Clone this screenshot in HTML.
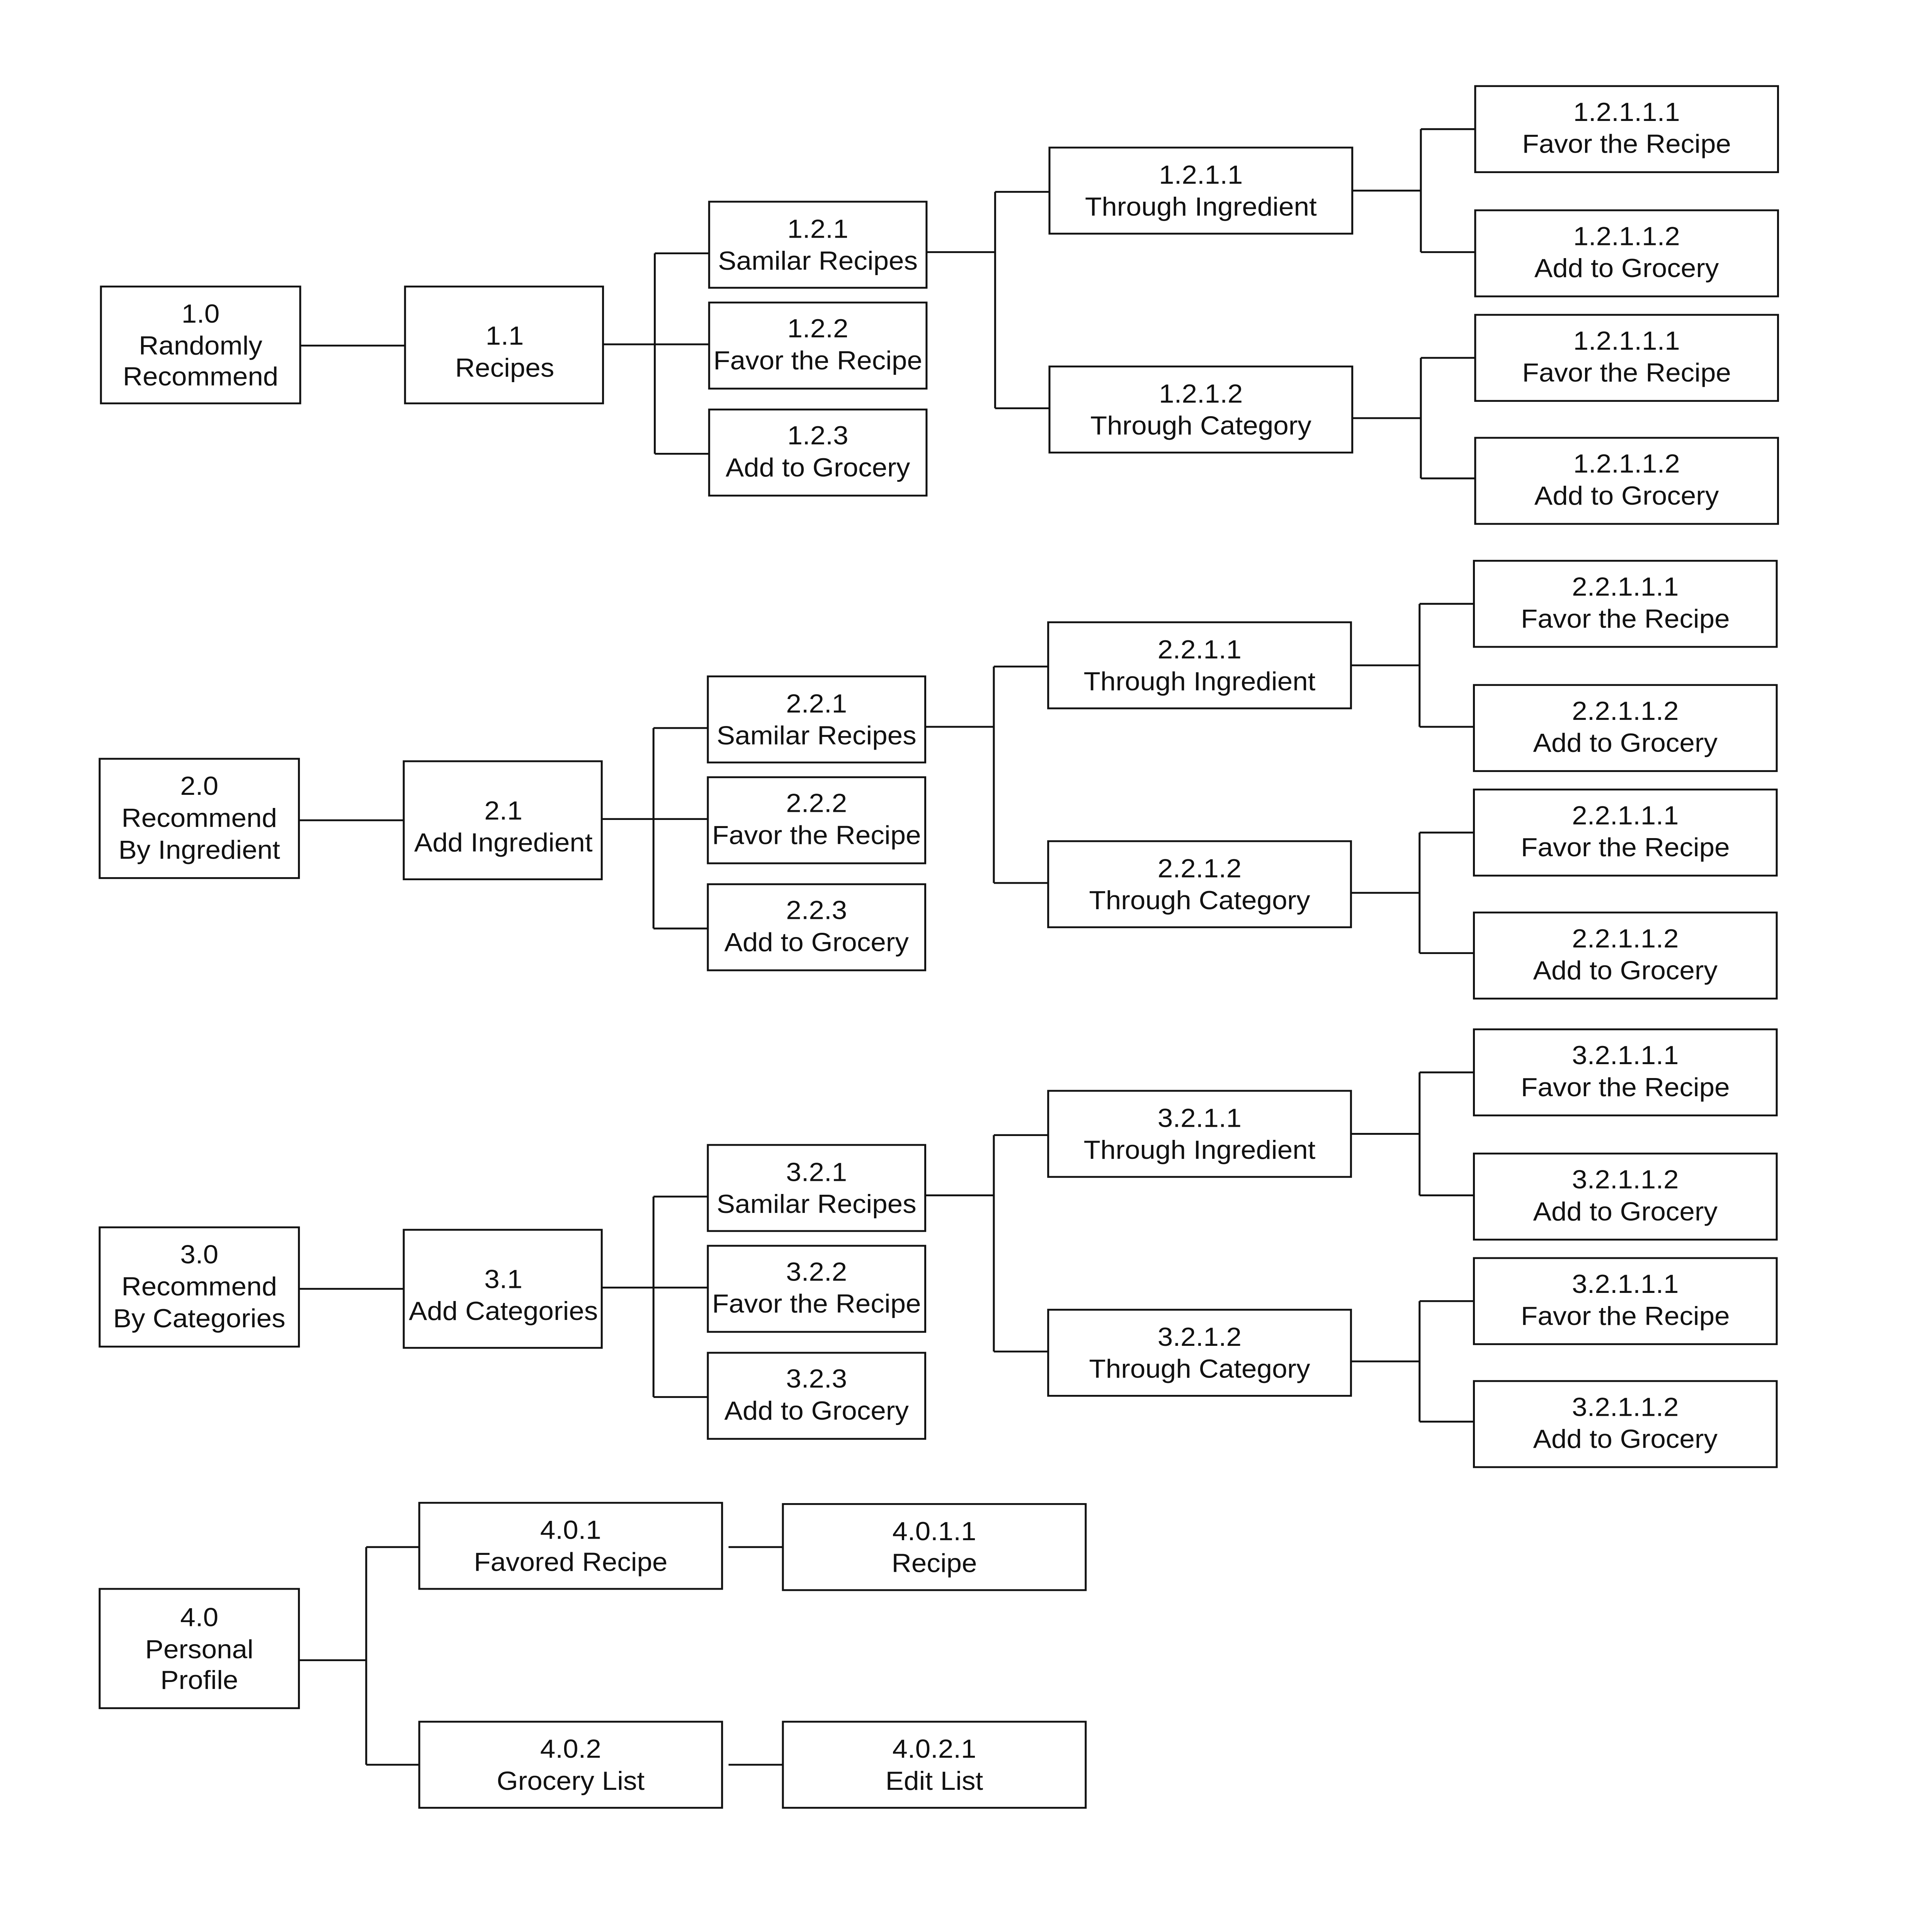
<!DOCTYPE html>
<html><head><meta charset="utf-8">
<style>
html,body{margin:0;padding:0;background:#fff;width:100%;height:100%;overflow:hidden;}
svg{display:block;width:100vw;height:100vh;}
text{font-family:"Liberation Sans",sans-serif;font-size:21.2px;fill:#111;text-anchor:middle;dominant-baseline:central;}
rect{fill:#fff;stroke:#111;stroke-width:1.5;}
path{fill:none;stroke:#111;stroke-width:1.5;}
</style></head>
<body>
<svg viewBox="0 0 1493 1571" preserveAspectRatio="none" xmlns="http://www.w3.org/2000/svg">
<!-- Row 1 -->
<g>
<path d="M232 281H313 M466 280H548 M506 206V369 M506 206H548 M506 369H548 M716 205H769 M769 156V332 M769 156H811 M769 332H811 M1045 155H1098 M1098 105V205 M1098 105H1140 M1098 205H1140 M1045 340H1098 M1098 291V389 M1098 291H1140 M1098 389H1140"/>
<rect x="78" y="233" width="154" height="95"/><text x="155" y="255">1.0</text><text x="155" y="281">Randomly</text><text x="155" y="306">Recommend</text>
<rect x="313" y="233" width="153" height="95"/><text x="390" y="273">1.1</text><text x="390" y="299">Recipes</text>
<rect x="548" y="164" width="168" height="70"/><text x="632" y="186">1.2.1</text><text x="632" y="212">Samilar Recipes</text>
<rect x="548" y="246" width="168" height="70"/><text x="632" y="267">1.2.2</text><text x="632" y="293">Favor the Recipe</text>
<rect x="548" y="333" width="168" height="70"/><text x="632" y="354">1.2.3</text><text x="632" y="380">Add to Grocery</text>
<rect x="811" y="120" width="234" height="70"/><text x="928" y="142">1.2.1.1</text><text x="928" y="168">Through Ingredient</text>
<rect x="811" y="298" width="234" height="70"/><text x="928" y="320">1.2.1.2</text><text x="928" y="346">Through Category</text>
<rect x="1140" y="70" width="234" height="70"/><text x="1257" y="91">1.2.1.1.1</text><text x="1257" y="117">Favor the Recipe</text>
<rect x="1140" y="171" width="234" height="70"/><text x="1257" y="192">1.2.1.1.2</text><text x="1257" y="218">Add to Grocery</text>
<rect x="1140" y="256" width="234" height="70"/><text x="1257" y="277">1.2.1.1.1</text><text x="1257" y="303">Favor the Recipe</text>
<rect x="1140" y="356" width="234" height="70"/><text x="1257" y="377">1.2.1.1.2</text><text x="1257" y="403">Add to Grocery</text>
</g>
<!-- Row 2 -->
<g transform="translate(-1,386)">
<path d="M232 281H313 M466 280H548 M506 206V369 M506 206H548 M506 369H548 M716 205H769 M769 156V332 M769 156H811 M769 332H811 M1045 155H1098 M1098 105V205 M1098 105H1140 M1098 205H1140 M1045 340H1098 M1098 291V389 M1098 291H1140 M1098 389H1140"/>
<rect x="78" y="231" width="154" height="97"/><text x="155" y="253">2.0</text><text x="155" y="279">Recommend</text><text x="155" y="305">By Ingredient</text>
<rect x="313" y="233" width="153" height="96"/><text x="390" y="273">2.1</text><text x="390" y="299">Add Ingredient</text>
<rect x="548" y="164" width="168" height="70"/><text x="632" y="186">2.2.1</text><text x="632" y="212">Samilar Recipes</text>
<rect x="548" y="246" width="168" height="70"/><text x="632" y="267">2.2.2</text><text x="632" y="293">Favor the Recipe</text>
<rect x="548" y="333" width="168" height="70"/><text x="632" y="354">2.2.3</text><text x="632" y="380">Add to Grocery</text>
<rect x="811" y="120" width="234" height="70"/><text x="928" y="142">2.2.1.1</text><text x="928" y="168">Through Ingredient</text>
<rect x="811" y="298" width="234" height="70"/><text x="928" y="320">2.2.1.2</text><text x="928" y="346">Through Category</text>
<rect x="1140" y="70" width="234" height="70"/><text x="1257" y="91">2.2.1.1.1</text><text x="1257" y="117">Favor the Recipe</text>
<rect x="1140" y="171" width="234" height="70"/><text x="1257" y="192">2.2.1.1.2</text><text x="1257" y="218">Add to Grocery</text>
<rect x="1140" y="256" width="234" height="70"/><text x="1257" y="277">2.2.1.1.1</text><text x="1257" y="303">Favor the Recipe</text>
<rect x="1140" y="356" width="234" height="70"/><text x="1257" y="377">2.2.1.1.2</text><text x="1257" y="403">Add to Grocery</text>
</g>
<!-- Row 3 -->
<g transform="translate(-1,767)">
<path d="M232 281H313 M466 280H548 M506 206V369 M506 206H548 M506 369H548 M716 205H769 M769 156V332 M769 156H811 M769 332H811 M1045 155H1098 M1098 105V205 M1098 105H1140 M1098 205H1140 M1045 340H1098 M1098 291V389 M1098 291H1140 M1098 389H1140"/>
<rect x="78" y="231" width="154" height="97"/><text x="155" y="253">3.0</text><text x="155" y="279">Recommend</text><text x="155" y="305">By Categories</text>
<rect x="313" y="233" width="153" height="96"/><text x="390" y="273">3.1</text><text x="390" y="299">Add Categories</text>
<rect x="548" y="164" width="168" height="70"/><text x="632" y="186">3.2.1</text><text x="632" y="212">Samilar Recipes</text>
<rect x="548" y="246" width="168" height="70"/><text x="632" y="267">3.2.2</text><text x="632" y="293">Favor the Recipe</text>
<rect x="548" y="333" width="168" height="70"/><text x="632" y="354">3.2.3</text><text x="632" y="380">Add to Grocery</text>
<rect x="811" y="120" width="234" height="70"/><text x="928" y="142">3.2.1.1</text><text x="928" y="168">Through Ingredient</text>
<rect x="811" y="298" width="234" height="70"/><text x="928" y="320">3.2.1.2</text><text x="928" y="346">Through Category</text>
<rect x="1140" y="70" width="234" height="70"/><text x="1257" y="91">3.2.1.1.1</text><text x="1257" y="117">Favor the Recipe</text>
<rect x="1140" y="171" width="234" height="70"/><text x="1257" y="192">3.2.1.1.2</text><text x="1257" y="218">Add to Grocery</text>
<rect x="1140" y="256" width="234" height="70"/><text x="1257" y="277">3.2.1.1.1</text><text x="1257" y="303">Favor the Recipe</text>
<rect x="1140" y="356" width="234" height="70"/><text x="1257" y="377">3.2.1.1.2</text><text x="1257" y="403">Add to Grocery</text>
</g>
<!-- Row 4 -->
<g>
<path d="M231 1350H283 M283 1258V1435 M283 1258H324 M283 1435H324 M563 1258H605 M563 1435H605"/>
<rect x="77" y="1292" width="154" height="97"/><text x="154" y="1315">4.0</text><text x="154" y="1341">Personal</text><text x="154" y="1366">Profile</text>
<rect x="324" y="1222" width="234" height="70"/><text x="441" y="1244">4.0.1</text><text x="441" y="1270">Favored Recipe</text>
<rect x="324" y="1400" width="234" height="70"/><text x="441" y="1422">4.0.2</text><text x="441" y="1448">Grocery List</text>
<rect x="605" y="1223" width="234" height="70"/><text x="722" y="1245">4.0.1.1</text><text x="722" y="1271">Recipe</text>
<rect x="605" y="1400" width="234" height="70"/><text x="722" y="1422">4.0.2.1</text><text x="722" y="1448">Edit List</text>
</g>
</svg>
</body></html>
